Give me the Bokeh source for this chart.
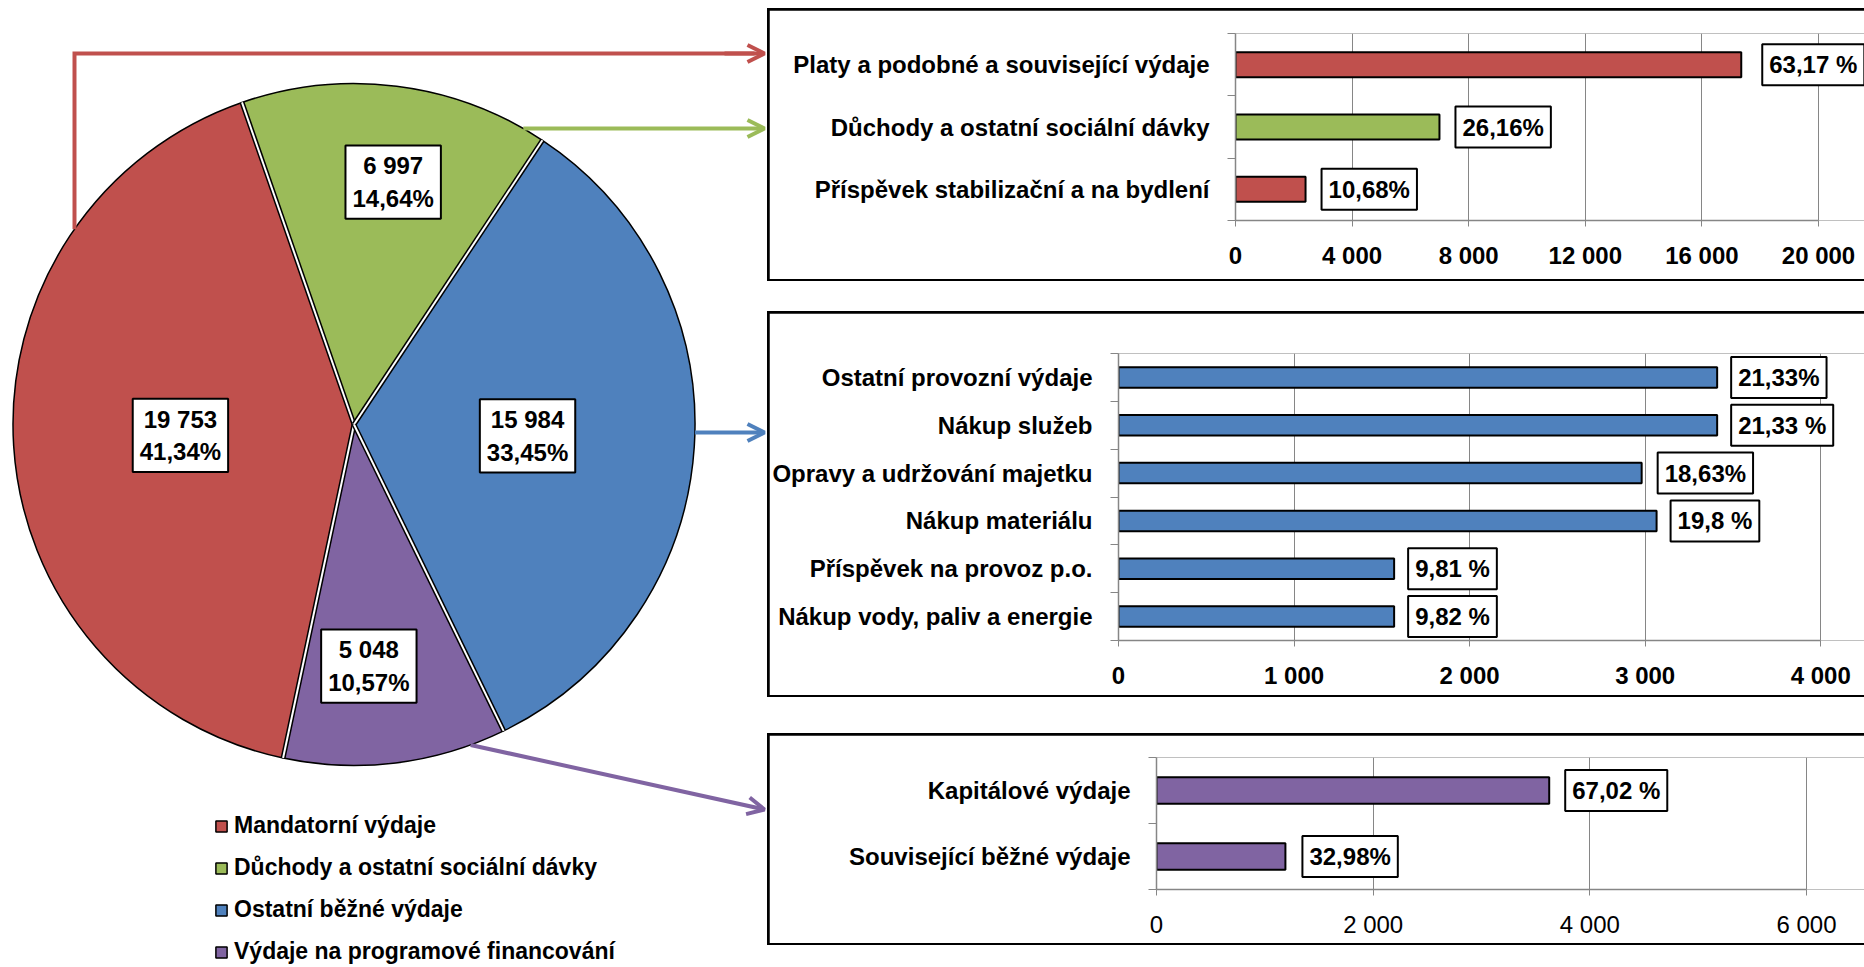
import math
from bokeh.plotting import figure
from bokeh.models import (Range1d, FixedTicker, Label, Legend, LegendItem, Arrow,
                          OpenHead, Spacer, ColumnDataSource, Plot)
from bokeh.layouts import row, column
from bokeh.embed import file_html
from bokeh.resources import INLINE

FONT = "Liberation Sans"
GRAY = "#868686"

# ---------------- data ----------------
pie_categories = ["Mandatorní výdaje", "Důchody a ostatní sociální dávky",
                  "Ostatní běžné výdaje", "Výdaje na programové financování"]
pie_values = [19753, 6997, 15984, 5048]
pie_percents = ["41,34%", "14,64%", "33,45%", "10,57%"]
pie_colors = ["#C0504D", "#9BBB59", "#4F81BD", "#8064A2"]

mand_categories = ["Platy a podobné a související výdaje",
                   "Důchody a ostatní sociální dávky",
                   "Příspěvek stabilizační a na bydlení"]
mand_values = [17350, 6997, 2403]
mand_labels = ["63,17 %", "26,16%", "10,68%"]
mand_colors = ["#C0504D", "#9BBB59", "#C0504D"]
mand_ticks = [0, 4000, 8000, 12000, 16000, 20000]
mand_tick_labels = ["0", "4 000", "8 000", "12 000", "16 000", "20 000"]

other_categories = ["Ostatní provozní výdaje", "Nákup služeb",
                    "Opravy a udržování majetku", "Nákup materiálu",
                    "Příspěvek na provoz p.o.", "Nákup vody, paliv a energie"]
other_values = [3410, 3410, 2980, 3065, 1570, 1570]
other_labels = ["21,33%", "21,33 %", "18,63%", "19,8 %", "9,81 %", "9,82 %"]
other_ticks = [0, 1000, 2000, 3000, 4000]
other_tick_labels = ["0", "1 000", "2 000", "3 000", "4 000"]

prog_categories = ["Kapitálové výdaje", "Související běžné výdaje"]
prog_values = [3625, 1190]
prog_labels = ["67,02 %", "32,98%"]
prog_ticks = [0, 2000, 4000, 6000]
prog_tick_labels = ["0", "2 000", "4 000", "6 000"]

HAS_PAD = "padding" in Label.properties()
HAS_FRAME_ALIGN = "frame_align" in Plot.properties()


def make_label(**kw):
    pad = kw.pop("pad", 7)
    lab = Label(**kw)
    if HAS_PAD:
        lab.padding = pad
    return lab


def bar_chart(cats, vals, labels, colors, ticks, tick_labels, width, height,
              frame_left, last_tick_px, bt, bb, bar_h, tick_bold, gaps):
    n = len(cats)
    ys = [n - 1 - i for i in range(n)]
    br = 0
    frame_w = width - br - frame_left
    x_end = ticks[-1] * frame_w / (last_tick_px - frame_left)
    p = figure(width=width, height=height, x_range=Range1d(ticks[0], x_end),
               y_range=Range1d(-0.5, n - 0.5), toolbar_location=None,
               output_backend="svg", min_border_left=frame_left, min_border_right=br,
               min_border_top=bt, min_border_bottom=bb)
    if HAS_FRAME_ALIGN:
        p.frame_align = False
    p.outline_line_color = None
    src = ColumnDataSource(dict(y=ys, right=vals, color=colors))
    p.hbar(y="y", left=0, right="right", height=bar_h, fill_color="color",
           line_color="black", line_width=2, source=src)

    xt = FixedTicker(ticks=ticks, minor_ticks=[])
    p.xaxis.ticker = xt
    p.xgrid.ticker = xt
    p.xaxis.bounds = (ticks[0], ticks[-1])
    p.xaxis.major_label_overrides = {t: l for t, l in zip(ticks, tick_labels)}
    p.xaxis.axis_line_color = GRAY
    p.xaxis.axis_line_width = 1.5
    p.xaxis.major_tick_line_color = GRAY
    p.xaxis.major_tick_out = 6
    p.xaxis.major_tick_in = 0
    p.xaxis.minor_tick_line_color = None
    p.xaxis.major_label_standoff = 15
    p.xaxis.major_label_text_font = FONT
    p.xaxis.major_label_text_font_size = "24px"
    p.xaxis.major_label_text_font_style = "bold" if tick_bold else "normal"
    p.xaxis.major_label_text_color = "black"
    p.xgrid.grid_line_color = GRAY
    p.xgrid.grid_line_width = 1
    p.ygrid.grid_line_color = None

    yt = FixedTicker(ticks=ys, minor_ticks=[k - 0.5 for k in range(n + 1)])
    p.yaxis.ticker = yt
    p.yaxis.major_label_overrides = {y: c for y, c in zip(ys, cats)}
    p.yaxis.axis_line_color = GRAY
    p.yaxis.axis_line_width = 1.5
    p.yaxis.major_tick_line_color = None
    p.yaxis.major_tick_out = 0
    p.yaxis.major_tick_in = 0
    p.yaxis.minor_tick_line_color = GRAY
    p.yaxis.minor_tick_out = 8
    p.yaxis.minor_tick_in = 0
    p.yaxis.major_label_standoff = 18
    p.yaxis.major_label_text_font = FONT
    p.yaxis.major_label_text_font_size = "24px"
    p.yaxis.major_label_text_font_style = "bold"
    p.yaxis.major_label_text_color = "black"

    for i in range(n):
        p.add_layout(make_label(x=vals[i], y=ys[i], text=labels[i], x_offset=gaps[i] + 8,
                                text_align="left", text_baseline="middle",
                                text_font=FONT, text_font_style="bold",
                                text_font_size="24px", text_color="black",
                                background_fill_color="white",
                                border_line_color="black", border_line_width=2, pad=7))
    return column(p, styles={"background-color": "black",
                             "padding": "2px 0px 2px 2px"})


X0R = 769  # canvas left of the bar charts (box left 767 + 2px border)
W_R = 1864 - X0R
b1 = bar_chart(mand_categories, mand_values, mand_labels, mand_colors, mand_ticks,
               mand_tick_labels, W_R, 269, 1235 - X0R, 1818 - X0R, 23, 59, 0.4, True,
               [13, 8, 8])
b2 = bar_chart(other_categories, other_values, other_labels, ["#4F81BD"] * 6,
               other_ticks, other_tick_labels, W_R, 382, 1114 - X0R, 1820 - X0R, 40, 55,
               0.43, True, [6, 6, 8, 6, 6, 6])
b3 = bar_chart(prog_categories, prog_values, prog_labels, ["#8064A2"] * 2,
               prog_ticks, prog_tick_labels, W_R, 208, 1156 - X0R, 1806 - X0R, 22, 54,
               0.4, False, [8, 9])

# ---------------- pie + arrows + legend ----------------
WL, HL = 767, 965
pl = figure(width=WL, height=HL, x_range=Range1d(0, WL), y_range=Range1d(HL, 0),
            x_axis_location=None, y_axis_location=None, toolbar_location=None,
            output_backend="svg", min_border=0)
if HAS_FRAME_ALIGN:
    pl.frame_align = False
pl.outline_line_color = None
pl.grid.visible = False

CX, CY, R = 353.5, 424.0, 341.0
FIRST = 192.0  # clockwise from top where first slice starts
total = sum(pie_values)
starts, ends, mids = [], [], []
cum = FIRST
for v in pie_values:
    span = v / total * 360.0
    starts.append(cum)
    ends.append(cum + span)
    mids.append(cum + span / 2)
    cum += span

psrc = ColumnDataSource(dict(
    start=[math.radians(90 - e) for e in ends],
    end=[math.radians(90 - s) for s in starts],
    color=pie_colors))
wr = pl.wedge(x=CX, y=CY, radius=R, start_angle="start", end_angle="end",
              fill_color="color", line_color="black", line_width=1.5, source=psrc)

# white separators
for s in starts:
    ex = CX + R * math.sin(math.radians(s))
    ey = CY - R * math.cos(math.radians(s))
    pl.line([CX, ex], [CY, ey], line_color="black", line_width=5)
    pl.line([CX, ex], [CY, ey], line_color="white", line_width=2)

label_frac = [0.51, 0.72, 0.51, 0.71]
label_turn = [0.0, 2.0, 0.0, 3.5]
for i, v in enumerate(pie_values):
    m = math.radians(mids[i] + label_turn[i])
    lx = CX + label_frac[i] * R * math.sin(m)
    ly = CY - label_frac[i] * R * math.cos(m)
    txt = f"{v:,}".replace(",", " ") + "\n" + pie_percents[i]
    pl.add_layout(make_label(x=lx, y=ly, text=txt, text_align="center",
                             text_baseline="middle", text_font=FONT,
                             text_font_style="bold", text_font_size="24px",
                             text_color="black", background_fill_color="white",
                             border_line_color="black", border_line_width=2, pad=7))

# arrows
XE = WL - 3


def edge_x(y):
    return CX + math.sqrt(R * R - (y - CY) ** 2)


rx = 74.0
ry0 = CY - math.sqrt(R * R - (rx - CX) ** 2)
pl.line([rx, rx, XE - 10], [ry0, 53, 53], line_color=pie_colors[0], line_width=4,
        line_join="miter")
arrow_specs = [
    (pie_colors[0], XE - 40, 53, XE, 53),
    (pie_colors[1], edge_x(128), 128, XE, 128),
    (pie_colors[2], edge_x(432), 432, XE, 432),
    (pie_colors[3], CX + R * math.sin(math.radians(160)),
     CY - R * math.cos(math.radians(160)), XE, 809),
]
for c, x0, y0, x1, y1 in arrow_specs:
    pl.add_layout(Arrow(end=OpenHead(size=17, line_color=c, line_width=4),
                        x_start=x0, y_start=y0, x_end=x1, y_end=y1,
                        line_color=c, line_width=4))

legend = Legend(items=[LegendItem(label=pie_categories[i], renderers=[wr], index=i)
                       for i in range(4)],
                location=(214, 0), orientation="vertical", padding=0, margin=0,
                border_line_color=None, background_fill_alpha=0,
                glyph_width=14, glyph_height=14, label_standoff=6, spacing=15,
                label_text_font=FONT, label_text_font_size="23px",
                label_text_font_style="bold", label_text_color="black")
pl.add_layout(legend)

layout = row(pl, column(Spacer(height=8), b1, Spacer(height=30), b2,
                        Spacer(height=36), b3))

open("out.html", "w").write(file_html(layout, INLINE))
